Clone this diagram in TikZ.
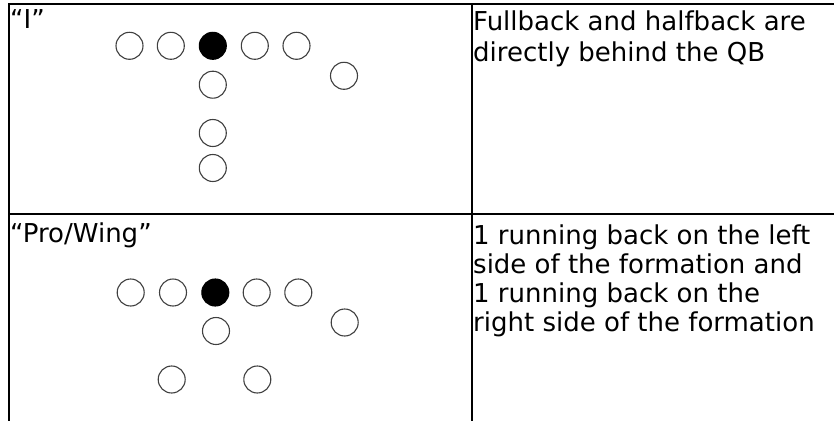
\documentclass[tikz,border=0pt]{standalone}
\usepackage{fontspec}
\setmainfont{DejaVu Sans}
\begin{document}
\begin{tikzpicture}[x=1pt,y=-1pt,
  player/.style={circle,draw=black!75,line width=1.1pt,minimum size=27pt,inner sep=0pt},
  qb/.style={player,fill=black,draw=black},
  rule/.style={line width=2pt,black},
  celltext/.style={anchor=base west,inner sep=0pt,font=\fontsize{26}{30}\selectfont}]
\useasboundingbox (0,0) rectangle (834,420);
\fill[white] (0,0) rectangle (834,420);
\clip (0,0) rectangle (834,420);
% table rules
\draw[rule] (9,440) -- (9,4) -- (850,4);
\draw[rule] (472,4) -- (472,440);
\draw[rule] (9,214) -- (850,214);
% texts
\node[celltext] (t1) at (10,29) {“I”};
\node[celltext] (t2) at (473,31) {Fullback and halfback are};
\node[celltext] (t3) at (473,61.5) {directly behind the QB};
\node[celltext] (t4) at (10,242) {“Pro/Wing”};
\node[celltext] (t5) at (473,244) {1 running back on the left};
\node[celltext] (t6) at (473,273) {side of the formation and};
\node[celltext] (t7) at (473,302) {1 running back on the};
\node[celltext] (t8) at (473,331) {right side of the formation};
% I formation
\node[player] (a1) at (129.5,45.8) {};
\node[player] (a2) at (170.8,45.8) {};
\node[qb]     (a3) at (212.8,45.8) {};
\node[player] (a4) at (254.8,45.8) {};
\node[player] (a5) at (296.5,45.8) {};
\node[player] (a6) at (212.8,84.7) {};
\node[player] (a7) at (344,75.8) {};
\node[player] (a8) at (212.8,133) {};
\node[player] (a9) at (212.8,168) {};
% Pro/Wing formation
\node[player] (b1) at (130.7,292.5) {};
\node[player] (b2) at (173,292.5) {};
\node[qb]     (b3) at (215.3,292.5) {};
\node[player] (b4) at (256.7,292.5) {};
\node[player] (b5) at (298.3,292.5) {};
\node[player] (b6) at (216,331) {};
\node[player] (b7) at (344.7,322.5) {};
\node[player] (b8) at (171.7,379.5) {};
\node[player] (b9) at (257.3,379.5) {};
\end{tikzpicture}
\end{document}
